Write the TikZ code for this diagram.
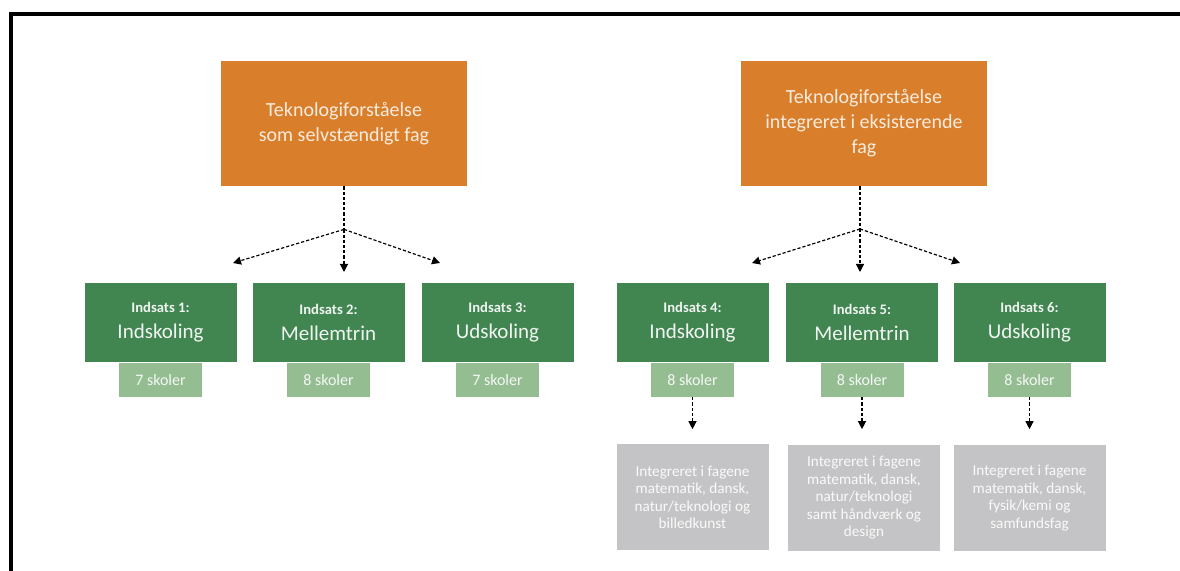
\documentclass[tikz,border=0pt]{standalone}
\usepackage{fontspec}
\setmainfont{Carlito}
\usetikzlibrary{arrows.meta,positioning}
\definecolor{tforange}{HTML}{D97E2B}
\definecolor{tfgreen}{HTML}{418551}
\definecolor{tflight}{HTML}{95BD92}
\definecolor{tfgrey}{HTML}{C4C4C6}
\tikzset{
  fagbox/.style={fill=tforange,text=white!85!tforange,minimum width=123pt,minimum height=62.5pt,
    align=center,inner sep=0pt,font=\fontsize{10}{12.5}\selectfont},
  indsats/.style={fill=tfgreen,text=white!92!tfgreen,minimum width=76pt,minimum height=39.5pt,
    align=center,inner sep=0pt},
  skoler/.style={fill=tflight,text=white!90!tflight,minimum width=41.5pt,minimum height=17pt,
    inner sep=0pt,font=\fontsize{8}{9}\selectfont},
  fagliste/.style={fill=tfgrey,text=white!92!tfgrey,minimum width=76pt,minimum height=53pt,
    align=center,inner sep=0pt,font=\fontsize{7.6}{8.75}\selectfont},
  streg/.style={dash pattern=on 1.6pt off 1pt,line width=0.6pt},
  pil/.style={streg,-{Triangle[length=4pt,width=4pt]}}
}
\begin{document}
\begin{tikzpicture}[x=0.5pt,y=-0.5pt]
  \useasboundingbox (0,0) rectangle (1180,571);
  % frame
  \draw[line width=2pt] (1180,14) -- (11,14) -- (11,571);

  % the two ways of teaching
  \node[fagbox] (selv) at (344,123.5) {Teknologiforståelse\\som selvstændigt fag};
  \node[fagbox] (integ) at (864,123.5) {Teknologiforståelse\\integreret i eksisterende\\fag};

  % indsatser
  \foreach \n/\x/\fase/\antal in {1/160.5/Indskoling/7,2/328.5/Mellemtrin/8,3/497.5/Udskoling/7,
      4/692.5/Indskoling/8,5/862/Mellemtrin/8,6/1029.5/Udskoling/8} {
    \node[indsats] (ind\n) at (\x,322.5)
      {{\fontsize{7.3}{9}\selectfont\bfseries Indsats \n:}\\[1pt]{\fontsize{10.5}{12}\selectfont \fase}};
    \node[skoler,below=0pt of ind\n] (sk\n) {\antal\ skoler};
  }

  % fag
  \node[fagliste] (fag4) at (692.5,497.5) {Integreret i fagene\\matematik, dansk,\\natur/teknologi og\\billedkunst};
  \node[fagliste] (fag5) at (864,498) {Integreret i fagene\\matematik, dansk,\\natur/teknologi\\samt håndværk og\\design};
  \node[fagliste] (fag6) at (1029.5,498) {Integreret i fagene\\matematik, dansk,\\fysik/kemi og\\samfundsfag};

  % arrows
  \coordinate[below=21.5pt of selv] (selv-split);
  \coordinate (selv-v) at (233,263);
  \coordinate (selv-m) at (344,272);
  \coordinate (selv-h) at (440,263);
  \coordinate (integ-split) at (860,229);
  \coordinate (integ-v) at (752,263);
  \coordinate (integ-m) at (860,272);
  \coordinate (integ-h) at (960,263);
  \draw[streg] (selv) -- (selv-split);
  \draw[streg] (integ.south -| integ-split) -- (integ-split);
  \foreach \m in {v,m,h} {
    \draw[pil] (selv-split) -- (selv-\m);
    \draw[pil] (integ-split) -- (integ-\m);
  }
  \foreach \n in {4,5,6} {
    \coordinate[below=16pt of sk\n] (sk\n-pil);
    \draw[pil] (sk\n) -- (sk\n-pil);
  }
\end{tikzpicture}
\end{document}
